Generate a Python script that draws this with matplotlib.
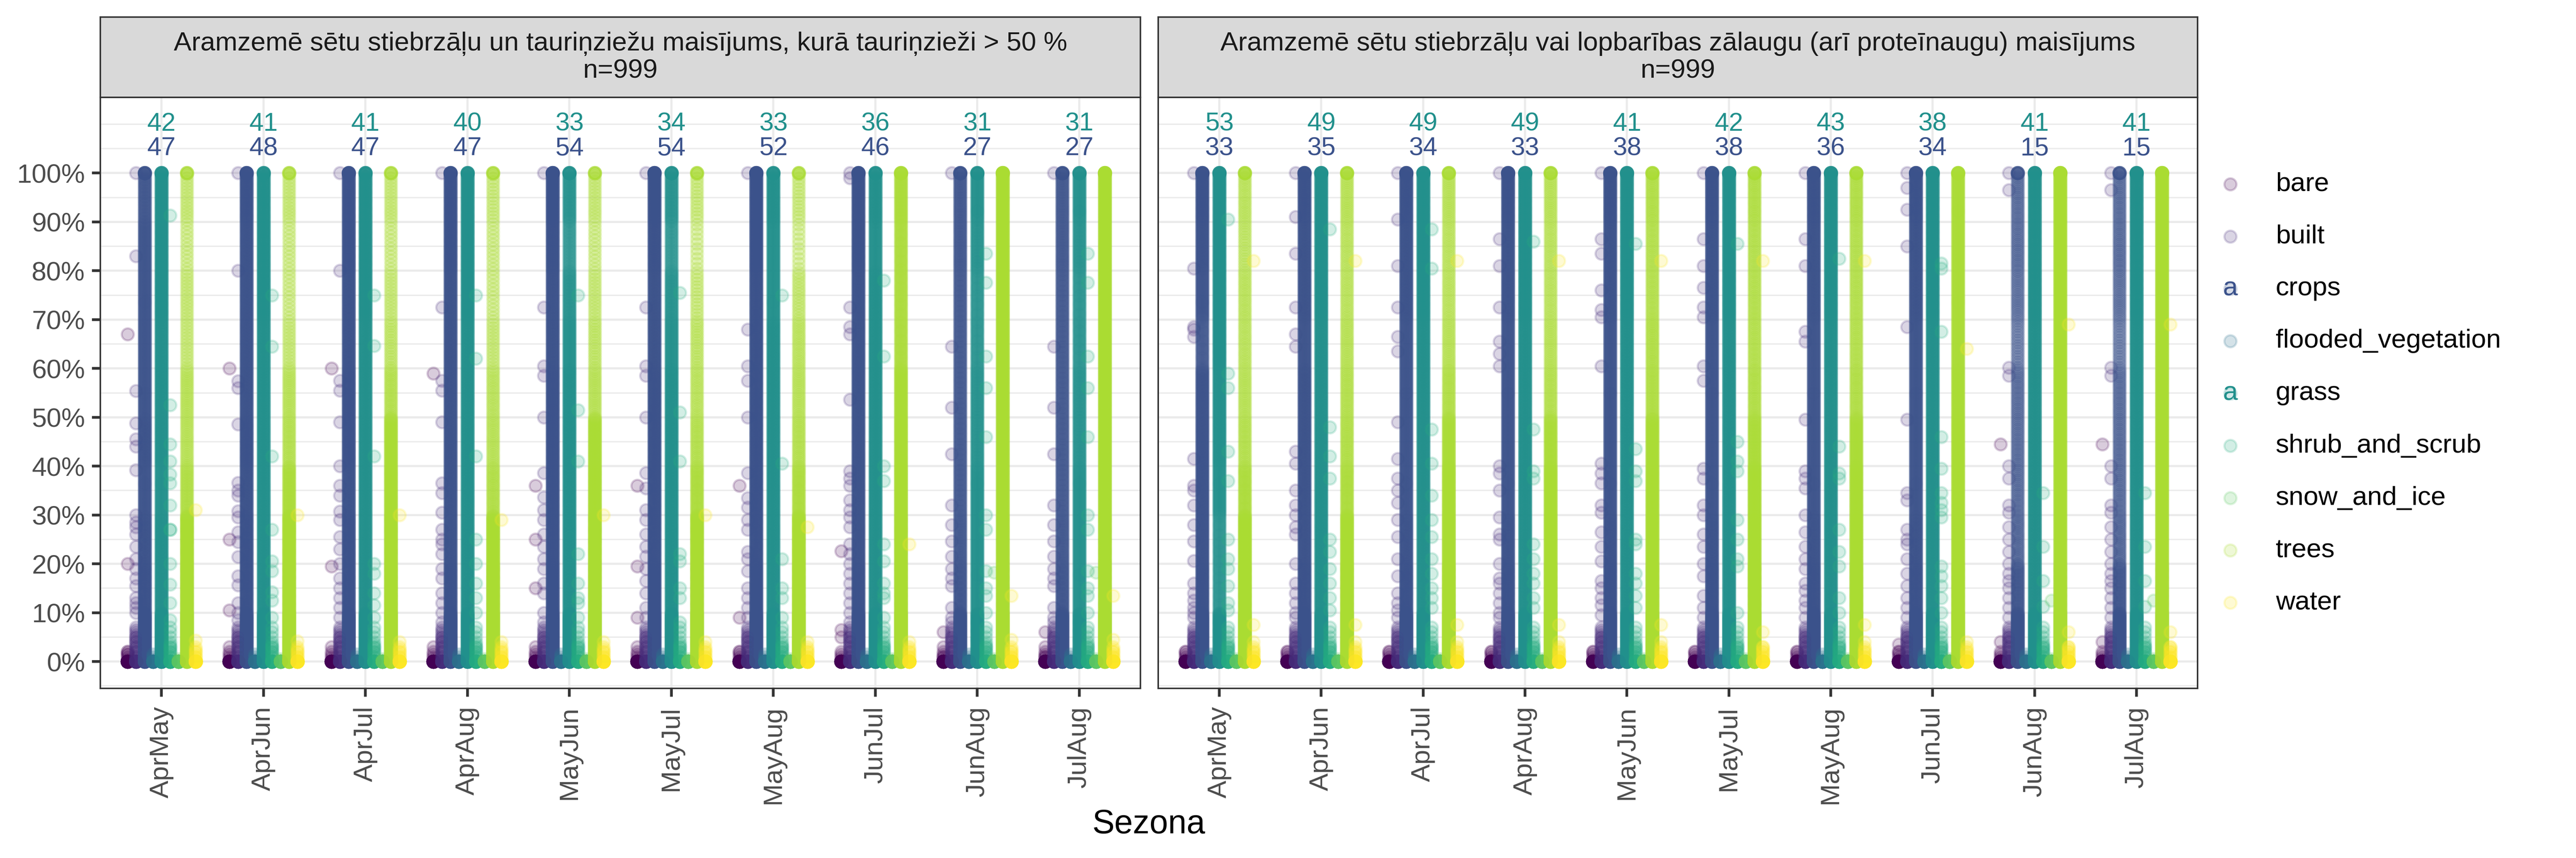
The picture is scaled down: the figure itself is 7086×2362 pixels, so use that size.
import numpy as np
import matplotlib
matplotlib.use("Agg")
import matplotlib.pyplot as plt

plt.rcParams['font.family'] = ['Liberation Sans', 'DejaVu Sans']

# ---------------- data ----------------
seasons = ["AprMay", "AprJun", "AprJul", "AprAug", "MayJun",
           "MayJul", "MayAug", "JunJul", "JunAug", "JulAug"]
classes = ["bare", "built", "crops", "flooded_vegetation", "grass",
           "shrub_and_scrub", "snow_and_ice", "trees", "water"]
facet_titles = ["Aramzemē sētu stiebrzāļu un tauriņziežu maisījums, kurā tauriņzieži > 50 %",
                "Aramzemē sētu stiebrzāļu vai lopbarības zālaugu (arī proteīnaugu) maisījums"]
facet_n = [999, 999]

# counts shown above each season (crops = lower line, grass = upper line)
crops_label_lf = [47, 48, 47, 47, 54, 54, 52, 46, 27, 27]
grass_label_lf = [42, 41, 41, 40, 33, 34, 33, 36, 31, 31]
crops_label_rt = [33, 35, 34, 33, 38, 38, 36, 34, 15, 15]
grass_label_rt = [53, 49, 49, 49, 41, 42, 43, 38, 41, 41]

# observations exactly at 0 % per class (solid dot row)
zeros_lf = [60, 50, 40, 60, 40, 50, 60, 40, 50]
zeros_rt = [60, 50, 40, 60, 40, 50, 60, 40, 50]

# dense classes: number of observations per 10 % band (0-10 ... 90-100) + count at 100 %
crops_lf = [
    [80, 55, 50, 45, 50, 45, 45, 45, 45, 40, 10],
    [80, 55, 55, 50, 55, 50, 50, 50, 50, 55, 12],
    [80, 55, 55, 50, 55, 55, 50, 50, 55, 55, 12],
    [80, 55, 50, 50, 50, 50, 50, 50, 55, 55, 12],
    [80, 60, 55, 55, 55, 55, 50, 50, 55, 60, 14],
    [80, 60, 55, 55, 55, 55, 50, 50, 55, 60, 14],
    [80, 60, 55, 55, 55, 55, 55, 55, 60, 60, 14],
    [80, 55, 50, 50, 50, 50, 50, 50, 55, 55, 12],
    [75, 42, 38, 36, 36, 36, 36, 36, 38, 38, 10],
    [75, 42, 38, 36, 36, 36, 36, 36, 38, 38, 10],
]
grass_lf = [
    [80, 50, 50, 45, 50, 50, 50, 55, 55, 55, 10],
    [80, 50, 50, 50, 50, 50, 50, 55, 55, 55, 10],
    [80, 50, 50, 50, 50, 50, 50, 55, 55, 55, 10],
    [80, 50, 50, 50, 50, 50, 50, 55, 55, 55, 10],
    [80, 50, 50, 50, 50, 50, 45, 40, 30, 40, 10],
    [80, 50, 50, 50, 50, 50, 45, 40, 30, 40, 10],
    [80, 50, 50, 50, 50, 50, 50, 45, 45, 50, 10],
    [80, 50, 50, 50, 50, 50, 50, 50, 45, 50, 10],
    [70, 45, 45, 45, 40, 40, 35, 35, 40, 45, 10],
    [70, 45, 45, 45, 40, 40, 35, 35, 40, 45, 10],
]
trees_lf = [
    [90, 70, 65, 30, 22, 22, 15, 15, 12, 15, 6],
    [90, 70, 65, 40, 25, 22, 15, 12, 12, 15, 6],
    [90, 70, 65, 55, 50, 25, 18, 15, 12, 15, 6],
    [90, 70, 60, 28, 22, 20, 15, 12, 12, 14, 6],
    [90, 70, 65, 55, 50, 22, 18, 15, 12, 15, 6],
    [90, 70, 65, 35, 25, 20, 18, 14, 10, 14, 6],
    [90, 70, 65, 35, 25, 22, 20, 16, 10, 14, 6],
    [90, 70, 65, 60, 55, 50, 35, 35, 35, 40, 10],
    [90, 70, 65, 60, 60, 60, 60, 60, 60, 60, 14],
    [90, 70, 65, 60, 60, 60, 60, 60, 60, 60, 14],
]
crops_rt = [
    [80, 55, 50, 50, 50, 50, 35, 45, 50, 55, 12],
    [80, 55, 50, 50, 50, 50, 45, 50, 50, 55, 12],
    [80, 55, 50, 45, 45, 45, 45, 50, 50, 55, 12],
    [80, 55, 50, 45, 45, 45, 45, 50, 50, 55, 12],
    [80, 55, 50, 45, 45, 45, 45, 50, 50, 55, 12],
    [80, 55, 50, 45, 45, 45, 45, 50, 50, 55, 12],
    [80, 55, 50, 45, 45, 45, 45, 50, 50, 55, 12],
    [80, 55, 50, 45, 45, 45, 45, 50, 50, 55, 12],
    [75, 40, 26, 24, 24, 24, 18, 22, 24, 24, 8],
    [75, 40, 26, 24, 24, 24, 18, 22, 24, 24, 8],
]
grass_rt = [
    [70, 35, 35, 45, 50, 50, 55, 55, 55, 55, 12],
    [80, 50, 50, 50, 50, 50, 50, 55, 55, 55, 12],
    [80, 50, 50, 50, 50, 50, 50, 55, 55, 55, 12],
    [80, 50, 50, 50, 50, 50, 50, 55, 55, 55, 12],
    [80, 50, 50, 50, 50, 50, 50, 55, 55, 55, 12],
    [80, 50, 50, 50, 50, 50, 50, 55, 55, 55, 12],
    [80, 50, 50, 50, 50, 50, 50, 55, 55, 55, 12],
    [80, 50, 50, 50, 50, 50, 50, 55, 55, 55, 12],
    [80, 50, 50, 50, 50, 50, 50, 55, 55, 55, 12],
    [80, 50, 50, 50, 50, 50, 50, 55, 55, 55, 12],
]
trees_rt = [
    [90, 70, 60, 35, 25, 22, 20, 20, 18, 20, 8],
    [90, 70, 60, 35, 28, 25, 22, 20, 20, 22, 8],
    [90, 70, 60, 55, 45, 28, 22, 20, 20, 22, 8],
    [90, 70, 60, 55, 42, 25, 22, 20, 20, 22, 8],
    [90, 70, 60, 55, 50, 30, 28, 25, 25, 28, 8],
    [90, 70, 60, 55, 40, 28, 25, 25, 25, 28, 8],
    [90, 70, 60, 55, 45, 28, 25, 25, 25, 28, 8],
    [90, 70, 60, 55, 55, 50, 45, 45, 45, 45, 10],
    [90, 70, 60, 60, 60, 60, 60, 60, 60, 60, 14],
    [90, 70, 60, 60, 60, 60, 60, 60, 60, 60, 14],
]

# sparse classes: low-value pile (same each season) + individual values per season (%)
bare_low = [0.5, 1, 1.5, 2]
built_low = [0.5, 1, 1.5, 2, 2.5, 3, 3.5, 4, 4.5, 5, 5.5, 6, 6.5, 7, 1, 2, 3, 4, 5]
flooded_low = [0.5, 1, 1.5]
shrub_low = [0.5, 1, 1.5, 2, 2.5, 3, 3.5, 4, 5, 6, 7, 1, 2, 3]
snow_low = [0.5]
water_low = [0.5, 1, 1.5, 2, 2.5, 3, 1, 2]

bare_lf = [[67, 20, 2, 1.5], [60, 25, 10.5, 3], [60, 19.5, 3], [59, 3], [36, 25, 15, 3],
           [36, 19.5, 9, 3], [36, 9, 2], [22.6, 6.5, 5], [6, 3, 1], [6, 3, 1]]
built_lf = [
    [100, 83, 55.4, 48.8, 45.5, 44, 39.2, 30, 28.5, 27.5, 26, 23.5, 21, 19, 17, 15.5, 13, 12, 11, 10],
    [100, 80, 57.4, 56, 48.6, 36.6, 35, 34, 30.8, 29.5, 26.5, 24.5, 21.4, 17.5, 15.6, 12, 10, 8.5],
    [100, 80, 57.5, 55.5, 49, 40, 36, 34, 30.7, 29, 25.5, 23, 20, 17, 15, 13, 11, 9],
    [100, 72.5, 57.5, 55.5, 49, 36.5, 34.5, 30.5, 27, 25, 24, 22, 19, 17, 14, 12, 10, 8],
    [100, 72.5, 60.5, 58.5, 50, 38.6, 33.6, 31, 29, 26, 23.5, 21, 19, 16, 14, 10, 8],
    [100, 72.5, 60.5, 58.5, 50, 38.6, 35.5, 31, 29, 26, 23.5, 21.5, 19, 16.5, 14, 11, 9],
    [100, 68, 60.5, 57.5, 50, 38.6, 33.5, 31.5, 29, 27, 22.5, 21, 18.5, 15, 13, 11, 9],
    [100, 99, 72.5, 68.5, 67, 53.6, 39, 37.5, 36, 33, 31, 29.5, 27.5, 24, 22, 20, 18, 16, 14, 12, 10, 8],
    [100, 64.5, 52, 42.5, 32, 28, 24.6, 21.5, 19, 17, 15.5, 11, 9, 8],
    [100, 64.5, 52, 42.5, 32, 28, 24.6, 21.5, 19, 17, 15.5, 11, 9, 8],
]
shrub_lf = [
    [91.3, 52.5, 44.5, 41, 38.3, 36.5, 32, 27, 27, 20, 15.8, 12, 8.5],
    [75, 64.5, 42, 27, 20.5, 18.5, 14.2, 12.5, 9],
    [75, 64.6, 42, 20, 18, 14, 11.5, 9],
    [75, 62, 42, 25, 20, 16, 13, 10],
    [75, 51.5, 41, 22, 16, 13, 12, 9],
    [75.5, 51, 41, 22, 20.5, 15, 13, 8],
    [75, 40.5, 21, 15, 13, 9],
    [78, 62.5, 40, 37, 24, 20.5, 16, 14, 13, 9],
    [83.5, 77.6, 62.5, 56, 46, 30, 27, 18.5, 15, 13.5, 10],
    [83.5, 77.6, 62.5, 56, 46, 30, 27, 18.5, 15, 13.5, 10],
]
snow_lf = [[], [], [], [], [], [], [], [], [18.2], [18.2]]
water_lf = [[31, 4.3], [30, 4.2], [30, 4], [29, 4], [30, 4],
            [30, 4], [27.5, 4], [24, 4], [13.5, 4.5], [13.5, 4.5]]

bare_rt = [[2], [2], [2], [2], [2], [2], [2], [3.5, 2], [44.5, 4], [44.5, 4]]
built_rt = [
    [100, 80.5, 68.5, 68, 66.5, 41.5, 36, 35, 32, 28, 24.6, 20.6, 16, 14, 12.5, 11, 10, 9],
    [100, 91, 83.5, 72.5, 67, 64.5, 43, 40.5, 35, 32, 30, 27.5, 26, 20, 16, 14, 12, 10, 9],
    [100, 90.5, 81, 72.5, 66.5, 63.5, 49, 41.5, 37.5, 35, 32.5, 29, 25.5, 21, 17.5, 14, 12, 10.5, 9],
    [100, 86.5, 81, 72.5, 65.5, 63, 60.5, 40, 38.5, 35, 29.5, 26, 25, 20, 17, 16, 14, 12, 10, 9],
    [100, 86.5, 83.5, 76, 72, 70.5, 60.5, 40.5, 38.5, 36.5, 32, 30.5, 26.5, 23.5, 20.5, 16.5, 15, 13, 11.5, 9.5],
    [100, 86.5, 81, 76.5, 72.5, 70.5, 60.5, 57.5, 39.5, 37.5, 32, 30, 26, 23.5, 20, 17.5, 13.5, 11, 9],
    [100, 86.5, 81, 67.5, 65.5, 49.5, 39, 37.5, 35.5, 30, 26.5, 23.5, 21, 19, 16, 14.5, 12.5, 11, 9],
    [100, 97, 92.5, 85, 68.5, 49.5, 34.5, 33, 27, 25, 24, 21, 18, 15.5, 13, 11, 9],
    [100, 96.5, 60.2, 58.5, 40, 37.5, 32, 30.5, 27.5, 25, 22.5, 20, 18, 16.5, 15, 13, 11, 9],
    [100, 96.5, 60.2, 58.5, 40, 37.5, 32, 30.5, 27.5, 25, 22.5, 20, 18, 16.5, 15, 13, 11, 9],
]
shrub_rt = [
    [90.5, 59, 56, 43, 37, 25, 21, 19, 15.5, 12, 10.5],
    [88.5, 48, 42, 37.5, 25, 22.5, 19, 16, 13, 10.5],
    [88.5, 80.5, 47.5, 40.5, 34, 29, 25.5, 21, 18, 15, 13, 11],
    [86, 47.5, 39, 37.5, 24, 21, 18, 16, 13, 11],
    [85.5, 43.5, 39, 37, 25, 24, 18, 16, 13.5, 11],
    [85.5, 45, 41, 39, 29, 25, 21, 19.5, 10],
    [82.5, 44, 38.5, 37.5, 27, 22.5, 19.5, 13, 10],
    [81.5, 80.5, 67.5, 46, 39.5, 34.5, 32.5, 31, 29.5, 19.5, 17.5, 15.5, 13, 10],
    [34.5, 23.5, 16.5, 11.2],
    [34.5, 23.5, 16.5, 11.2],
]
snow_rt = [[], [], [], [], [], [], [], [], [12.5], [12.5]]
water_rt = [[82, 7.5, 4], [82, 7.5, 4], [82, 7.5, 4], [82, 7.5, 4], [82, 7.5, 4],
            [82, 6, 3], [82, 7.5, 4], [64, 4], [69, 6, 3], [69, 6, 3]]

facets = [
    dict(zeros=zeros_lf, crops=crops_lf, grass=grass_lf, trees=trees_lf,
         bare=bare_lf, built=built_lf, shrub=shrub_lf, snow=snow_lf, water=water_lf,
         crops_lab=crops_label_lf, grass_lab=grass_label_lf),
    dict(zeros=zeros_rt, crops=crops_rt, grass=grass_rt, trees=trees_rt,
         bare=bare_rt, built=built_rt, shrub=shrub_rt, snow=snow_rt, water=water_rt,
         crops_lab=crops_label_rt, grass_lab=grass_label_rt),
]

# ---------------- style ----------------
colors = ['#440154', '#472D7B', '#3B528B', '#2C728E', '#21908C',
          '#27AD81', '#5DC863', '#AADC32', '#FDE725']
ALPHA = 0.2
S = 16
LW_PT = 0.7
GRID = '#EBEBEB'
DARK = '#333333'
TICKC = '#4D4D4D'


def band_values(counts):
    vals = []
    for b, c in enumerate(counts[:10]):
        if c > 0:
            vals.extend(b * 10 + (np.arange(c) + 0.5) * 10.0 / c)
    vals.extend([100.0] * counts[10])
    return vals


def class_values(f, k, i):
    name = classes[k]
    zeros = [0.0] * f['zeros'][k]
    if name == 'bare':
        v = bare_low + f['bare'][i]
    elif name == 'built':
        v = built_low + f['built'][i]
    elif name == 'crops':
        v = band_values(f['crops'][i])
    elif name == 'flooded_vegetation':
        v = list(flooded_low)
    elif name == 'grass':
        v = band_values(f['grass'][i])
    elif name == 'shrub_and_scrub':
        v = shrub_low + f['shrub'][i]
    elif name == 'snow_and_ice':
        v = snow_low + f['snow'][i]
    elif name == 'trees':
        v = band_values(f['trees'][i])
    else:
        v = water_low + f['water'][i]
    return zeros + list(v)


W, H, DPI = 7086, 2362, 600
fig = plt.figure(figsize=(W / DPI, H / DPI), dpi=DPI)

panel_top, panel_bot = 268, 1895
strip_top = 47
panels_x = [(276, 3137), (3186, 6045)]
n_cls = len(classes)
dodge = 0.75 / n_cls
offsets = [(k - (n_cls - 1) / 2) * dodge for k in range(n_cls)]
xpos = np.arange(len(seasons))

for fi, (x0, x1) in enumerate(panels_x):
    f = facets[fi]
    ax = fig.add_axes([x0 / W, (H - panel_bot) / H, (x1 - x0) / W, (panel_bot - panel_top) / H])
    ax.set_xlim(-0.6, len(seasons) - 0.4)
    ax.set_ylim(-5.5, 115.5)
    # grid
    for yv in [-5] + list(range(5, 106, 10)) + [110]:
        ax.axhline(yv, color=GRID, lw=0.45, zorder=0)
    for yv in range(0, 101, 10):
        ax.axhline(yv, color=GRID, lw=0.72, zorder=0)
    for xv in xpos:
        ax.axvline(xv, color=GRID, lw=0.72, zorder=0)
    # points
    for k in range(n_cls):
        xs, ys = [], []
        for i in range(len(seasons)):
            vals = class_values(f, k, i)
            xs.extend([xpos[i] + offsets[k]] * len(vals))
            ys.extend(vals)
        ax.scatter(xs, ys, s=S, color=colors[k], alpha=ALPHA, linewidths=LW_PT,
                   edgecolors=colors[k], zorder=2)
    # count labels
    for i in range(len(seasons)):
        ax.text(xpos[i], 110, str(f['grass_lab'][i]), color=colors[4], fontsize=8.5,
                ha='center', va='center', zorder=3)
        ax.text(xpos[i], 105, str(f['crops_lab'][i]), color=colors[2], fontsize=8.5,
                ha='center', va='center', zorder=3)
    ax.set_xticks(xpos)
    ax.set_xticklabels(seasons, rotation=90, fontsize=8.8, color=TICKC)
    ax.set_yticks(range(0, 101, 10))
    ax.set_yticklabels([f"{v}%" for v in range(0, 101, 10)], fontsize=8.8, color=TICKC)
    ax.tick_params(axis='both', length=2.75, width=0.9, color=DARK, pad=2.3)
    ax.tick_params(axis='x', pad=3.2)
    if fi == 1:
        ax.tick_params(axis='y', left=False, labelleft=False)
    for sp in ax.spines.values():
        sp.set_color(DARK)
        sp.set_linewidth(0.5)
    ax.set_facecolor('white')
    # strip
    sax = fig.add_axes([x0 / W, (H - panel_top) / H, (x1 - x0) / W, (panel_top - strip_top) / H])
    sax.set_facecolor('#D9D9D9')
    sax.set_xticks([]); sax.set_yticks([])
    for sp in sax.spines.values():
        sp.set_color(DARK)
        sp.set_linewidth(0.5)
    sax.text(0.5, 0.5, f"{facet_titles[fi]}\nn={facet_n[fi]}", ha='center', va='center',
             fontsize=8.8, color='#1A1A1A', linespacing=1.15, transform=sax.transAxes)

# axis title
fig.text(3160 / W, 1 - 2270 / H, "Sezona", ha='center', va='center', fontsize=11, color='black')

# legend
lax = fig.add_axes([0, 0, 1, 1], zorder=-1)
lax.set_xlim(0, W); lax.set_ylim(H, 0); lax.axis('off')
key_x, text_x, y0, dy = 6135, 6260, 507, 144
for k, name in enumerate(classes):
    yk = y0 + k * dy
    lax.scatter([key_x], [yk], s=S, color=colors[k], alpha=ALPHA, linewidths=LW_PT,
                edgecolors=colors[k])
    if name in ('crops', 'grass'):
        lax.text(key_x, yk, 'a', color=colors[k], fontsize=8.8, ha='center', va='center')
    lax.text(text_x, yk, name, fontsize=8.8, color='black', ha='left', va='center')

fig.savefig('out.png', dpi=DPI, facecolor='white')
